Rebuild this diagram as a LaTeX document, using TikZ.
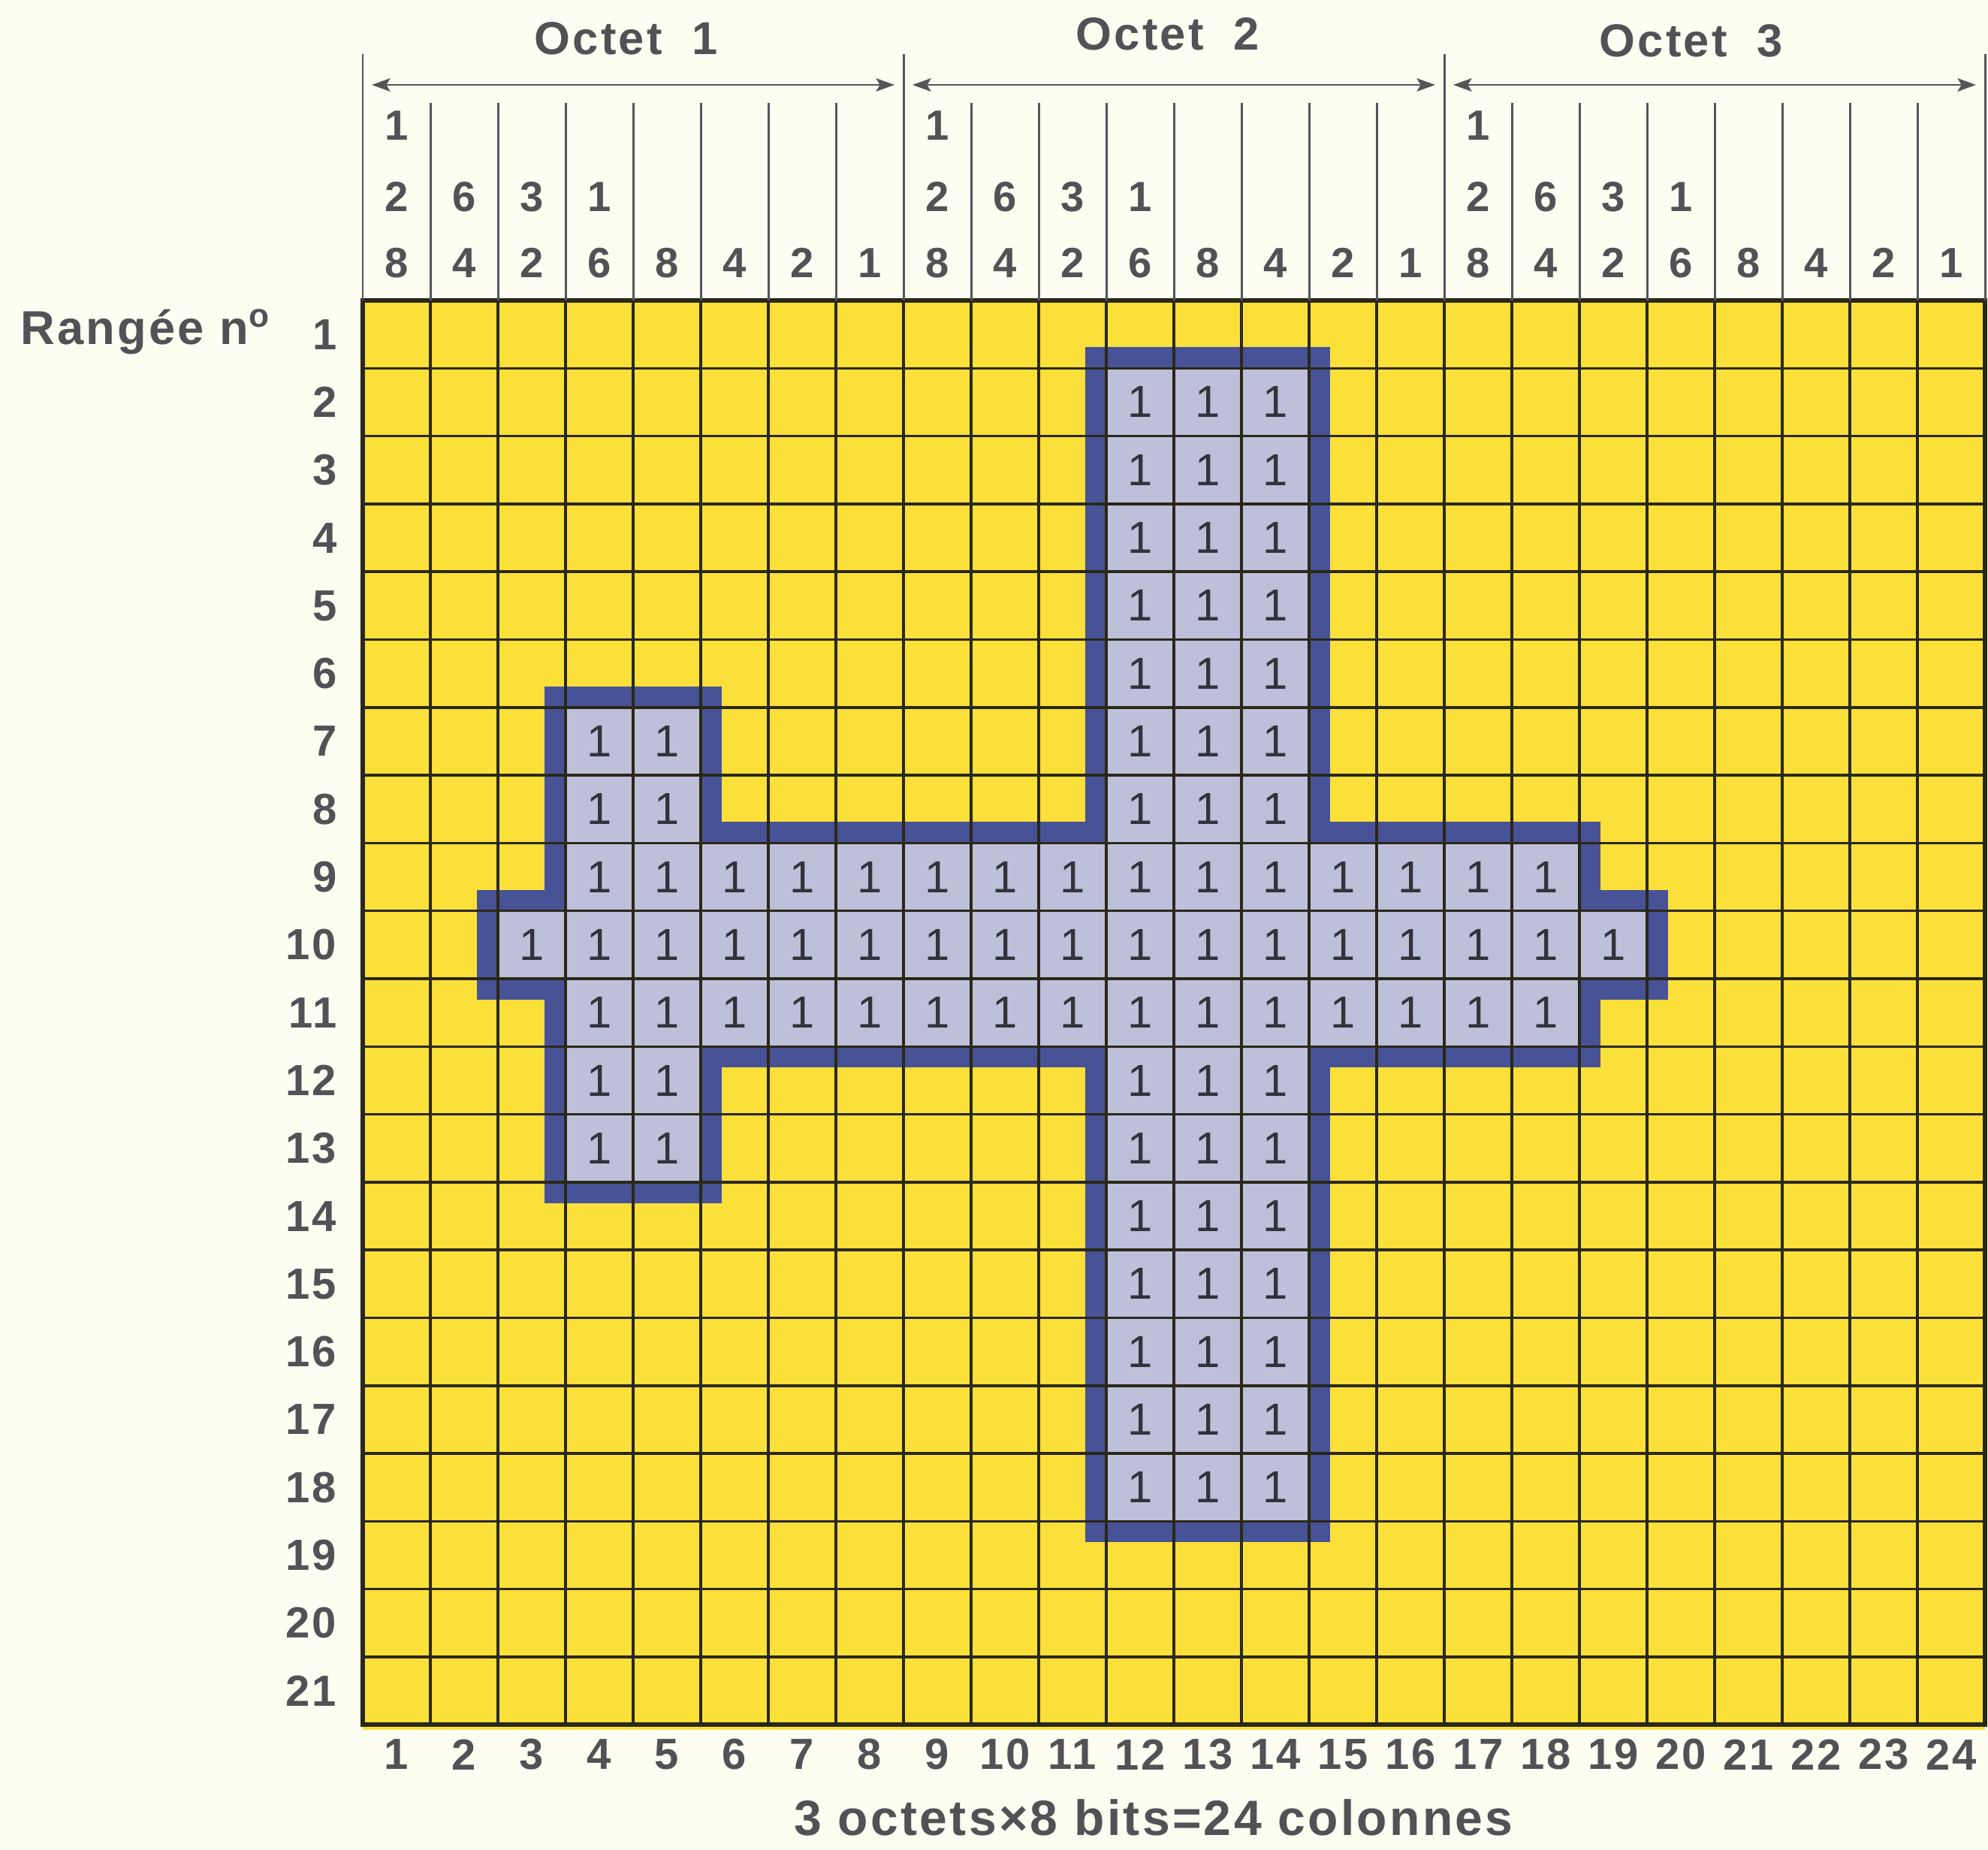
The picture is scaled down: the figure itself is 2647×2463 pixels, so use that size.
\documentclass[tikz,border=0pt]{standalone}
\usepackage{fontspec}
\setmainfont{Liberation Sans}[LetterSpace=5]
\usetikzlibrary{arrows.meta}
\definecolor{bgcream}{RGB}{253,253,242}
\definecolor{gridyellow}{RGB}{251,224,58}
\definecolor{shapefill}{RGB}{190,192,218}
\definecolor{shapeedge}{RGB}{72,82,150}
\definecolor{txtgrey}{RGB}{82,82,86}
\definecolor{onegrey}{RGB}{50,50,60}
\definecolor{gridline}{RGB}{42,40,24}
\definecolor{hdrline}{RGB}{85,85,88}
\tikzset{
  hdrln/.style={draw=hdrline, line width=0.85pt},
  gridln/.style={draw=gridline, line width=1pt},
  gridborder/.style={draw=gridline, line width=1.6pt},
  arr/.style={draw=hdrline, line width=0.8pt, >={Stealth[length=7pt,width=5pt,inset=1.5pt]}, <->},
  hdig/.style={text=txtgrey, inner sep=0pt, font=\fontsize{16}{16}\selectfont\bfseries},
  rowlbl/.style={text=txtgrey, inner sep=0pt, font=\fontsize{16.5}{16.5}\selectfont\bfseries},
  collbl/.style={text=txtgrey, inner sep=0pt, font=\fontsize{16.5}{16.5}\selectfont\bfseries},
  onecell/.style={text=onegrey, inner sep=0pt, font=\fontsize{17}{17}\selectfont},
  octlbl/.style={text=txtgrey, inner sep=0pt, font=\fontsize{17.5}{17.5}\selectfont\bfseries},
  biglbl/.style={text=txtgrey, inner sep=0pt, font=\fontsize{18}{18}\selectfont\bfseries},
  caplbl/.style={text=txtgrey, inner sep=0pt, font=\fontsize{18.8}{18.8}\selectfont\bfseries},
}
\begin{document}
\begin{tikzpicture}[x=0.1mm,y=-0.1mm]
\fill[bgcream] (0,0) rectangle (2647,2463);
\useasboundingbox (0,0) rectangle (2647,2463);

% ---------- grid (cell units) ----------
\begin{scope}[shift={(48.3mm,-40mm)},x=9mm,y=-9.03mm]
  \fill[gridyellow] (0,0) rectangle (24,21.07);
  \draw[shapeedge, line width=5.6mm, line join=miter, miter limit=10]
    (11,1) -- (14,1) -- (14,8) -- (18,8) -- (18,9) -- (19,9) -- (19,10) -- (18,10)
    -- (18,11) -- (14,11) -- (14,18) -- (11,18) -- (11,11) -- (5,11) -- (5,13)
    -- (3,13) -- (3,10) -- (2,10) -- (2,9) -- (3,9) -- (3,6) -- (5,6) -- (5,8)
    -- (11,8) -- cycle;
  \fill[shapefill]
    (11,1) -- (14,1) -- (14,8) -- (18,8) -- (18,9) -- (19,9) -- (19,10) -- (18,10)
    -- (18,11) -- (14,11) -- (14,18) -- (11,18) -- (11,11) -- (5,11) -- (5,13)
    -- (3,13) -- (3,10) -- (2,10) -- (2,9) -- (3,9) -- (3,6) -- (5,6) -- (5,8)
    -- (11,8) -- cycle;
  \foreach \c in {1,...,23} \draw[gridln] (\c,0) -- (\c,21);
  \foreach \r in {1,...,20} \draw[gridln] (0,\r) -- (24,\r);
  \draw[gridborder] (0,0) rectangle (24,21);
  % cells holding 1
  \foreach \r in {2,...,8,12,13,14,15,16,17,18}
    \foreach \c in {12,13,14}
      \node[onecell] (one-\c-\r) at (\c-0.5,\r-0.5) {1};
  \foreach \r in {7,8,12,13}
    \foreach \c in {4,5}
      \node[onecell] (one-\c-\r) at (\c-0.5,\r-0.5) {1};
  \foreach \r in {9,11}
    \foreach \c in {4,...,18}
      \node[onecell] (one-\c-\r) at (\c-0.5,\r-0.5) {1};
  \foreach \c in {3,...,19}
    \node[onecell] (one-\c-10) at (\c-0.5,9.5) {1};
\end{scope}

% ---------- header ----------
\foreach \c in {1,...,23}{
  \pgfmathtruncatemacro{\m}{mod(\c,8)}
  \ifnum\m=0\relax\else
    \draw[hdrln] ({483+90*\c},137) -- ({483+90*\c},400);
  \fi
}
\foreach \o in {0,1,2,3}
  \draw[hdrln] ({483+720*\o},72) -- ({483+720*\o},400);

\foreach \o in {0,1,2}{
  \coordinate (al\o) at ({483+720*\o+12},113);
  \coordinate (ar\o) at ({483+720*(\o+1)-12},113);
  \draw[arr] (al\o) -- (ar\o);
  \foreach \p/\d in {0/8,1/4,2/2,3/6,4/8,5/4,6/2,7/1}
    \node[hdig] (hb\o\p) at ({483+720*\o+90*\p+45},350) {\d};
  \foreach \p/\d in {0/2,1/6,2/3,3/1}
    \node[hdig] (hm\o\p) at ({483+720*\o+90*\p+45},262) {\d};
  \node[hdig] (ht\o) at ({483+720*\o+45},167) {1};
}
\node[octlbl] (oct1) at (834,51) {Octet~~1};
\node[octlbl] (oct2) at (1555,45) {Octet~~2};
\node[octlbl] (oct3) at (2252,54) {Octet~~3};

% ---------- row labels ----------
\node[biglbl, anchor=base west] (rangee) at (27,458) {Rangée n\textsuperscript{o}};
\foreach \r in {1,...,21}
  \node[rowlbl, anchor=east] (row\r) at (449,{400+90.3*(\r-0.5)}) {\r};

% ---------- column labels ----------
\foreach \c in {1,...,24}
  \node[collbl] (col\c) at ({483+90*(\c-0.5)},2336) {\c};
\node[caplbl, anchor=base] (caption) at (1536,2443) {3 octets×8 bits=24 colonnes};
\end{tikzpicture}
\end{document}
